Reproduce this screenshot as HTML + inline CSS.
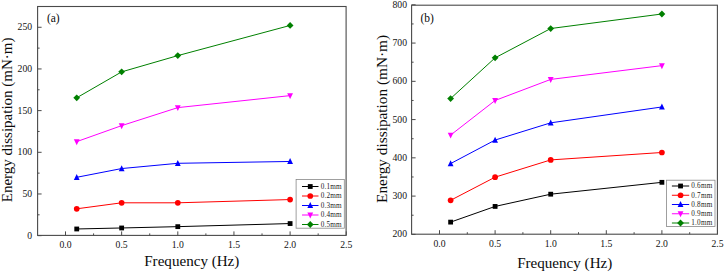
<!DOCTYPE html>
<html><head><meta charset="utf-8"><style>
html,body{margin:0;padding:0;background:#fff;}
body{width:725px;height:274px;overflow:hidden;}
svg{display:block;}
text{font-family:"Liberation Serif", serif;fill:#0a0a0a;}
text.lg{stroke:none;fill:#222;letter-spacing:0.2px;}
text.tk{stroke:none;fill:#111;}
</style></head><body>
<svg width="725" height="274" viewBox="0 0 725 274">
<rect width="725" height="274" fill="#fff"/>
<rect x="37.6" y="6.5" width="308.5" height="228.9" fill="none" stroke="#4a4a4a" stroke-width="1.1"/>
<line x1="65.50" y1="235.4" x2="65.50" y2="231.4" stroke="#4a4a4a" stroke-width="1"/>
<text x="65.50" y="248" font-size="9.7" text-anchor="middle" class="tk">0.0</text>
<line x1="121.65" y1="235.4" x2="121.65" y2="231.4" stroke="#4a4a4a" stroke-width="1"/>
<text x="121.65" y="248" font-size="9.7" text-anchor="middle" class="tk">0.5</text>
<line x1="177.80" y1="235.4" x2="177.80" y2="231.4" stroke="#4a4a4a" stroke-width="1"/>
<text x="177.80" y="248" font-size="9.7" text-anchor="middle" class="tk">1.0</text>
<line x1="233.95" y1="235.4" x2="233.95" y2="231.4" stroke="#4a4a4a" stroke-width="1"/>
<text x="233.95" y="248" font-size="9.7" text-anchor="middle" class="tk">1.5</text>
<line x1="290.10" y1="235.4" x2="290.10" y2="231.4" stroke="#4a4a4a" stroke-width="1"/>
<text x="290.10" y="248" font-size="9.7" text-anchor="middle" class="tk">2.0</text>
<line x1="346.25" y1="235.4" x2="346.25" y2="231.4" stroke="#4a4a4a" stroke-width="1"/>
<text x="346.25" y="248" font-size="9.7" text-anchor="middle" class="tk">2.5</text>
<line x1="93.58" y1="235.4" x2="93.58" y2="233.4" stroke="#4a4a4a" stroke-width="1"/>
<line x1="149.72" y1="235.4" x2="149.72" y2="233.4" stroke="#4a4a4a" stroke-width="1"/>
<line x1="205.88" y1="235.4" x2="205.88" y2="233.4" stroke="#4a4a4a" stroke-width="1"/>
<line x1="262.02" y1="235.4" x2="262.02" y2="233.4" stroke="#4a4a4a" stroke-width="1"/>
<line x1="318.17" y1="235.4" x2="318.17" y2="233.4" stroke="#4a4a4a" stroke-width="1"/>
<line x1="37.6" y1="235.65" x2="41.6" y2="235.65" stroke="#4a4a4a" stroke-width="1"/>
<text x="32.1" y="238.55" font-size="9.7" text-anchor="end" class="tk">0</text>
<line x1="37.6" y1="193.97" x2="41.6" y2="193.97" stroke="#4a4a4a" stroke-width="1"/>
<text x="32.1" y="196.88" font-size="9.7" text-anchor="end" class="tk">50</text>
<line x1="37.6" y1="152.30" x2="41.6" y2="152.30" stroke="#4a4a4a" stroke-width="1"/>
<text x="32.1" y="155.20" font-size="9.7" text-anchor="end" class="tk">100</text>
<line x1="37.6" y1="110.62" x2="41.6" y2="110.62" stroke="#4a4a4a" stroke-width="1"/>
<text x="32.1" y="113.53" font-size="9.7" text-anchor="end" class="tk">150</text>
<line x1="37.6" y1="68.95" x2="41.6" y2="68.95" stroke="#4a4a4a" stroke-width="1"/>
<text x="32.1" y="71.85" font-size="9.7" text-anchor="end" class="tk">200</text>
<line x1="37.6" y1="27.28" x2="41.6" y2="27.28" stroke="#4a4a4a" stroke-width="1"/>
<text x="32.1" y="30.18" font-size="9.7" text-anchor="end" class="tk">250</text>
<line x1="37.6" y1="214.81" x2="39.6" y2="214.81" stroke="#4a4a4a" stroke-width="1"/>
<line x1="37.6" y1="173.14" x2="39.6" y2="173.14" stroke="#4a4a4a" stroke-width="1"/>
<line x1="37.6" y1="131.46" x2="39.6" y2="131.46" stroke="#4a4a4a" stroke-width="1"/>
<line x1="37.6" y1="89.79" x2="39.6" y2="89.79" stroke="#4a4a4a" stroke-width="1"/>
<line x1="37.6" y1="48.11" x2="39.6" y2="48.11" stroke="#4a4a4a" stroke-width="1"/>
<text x="191.8" y="266.2" font-size="15.1" text-anchor="middle">Frequency (Hz)</text>
<text transform="translate(12.2,119.9) rotate(-90)" font-size="15" text-anchor="middle">Energy dissipation (mN&#183;m)</text>
<text x="46.9" y="21.5" font-size="11.5">(a)</text>
<polyline points="76.73,228.98 121.65,227.98 177.80,226.65 290.10,223.56" fill="none" stroke="#000000" stroke-width="1.0"/>
<rect x="74.33" y="226.58" width="4.80" height="4.80" fill="#000000"/>
<rect x="119.25" y="225.58" width="4.80" height="4.80" fill="#000000"/>
<rect x="175.40" y="224.25" width="4.80" height="4.80" fill="#000000"/>
<rect x="287.70" y="221.16" width="4.80" height="4.80" fill="#000000"/>
<polyline points="76.73,208.81 121.65,202.81 177.80,202.81 290.10,199.56" fill="none" stroke="#ff0000" stroke-width="1.0"/>
<circle cx="76.73" cy="208.81" r="2.85" fill="#ff0000"/>
<circle cx="121.65" cy="202.81" r="2.85" fill="#ff0000"/>
<circle cx="177.80" cy="202.81" r="2.85" fill="#ff0000"/>
<circle cx="290.10" cy="199.56" r="2.85" fill="#ff0000"/>
<polyline points="76.73,177.31 121.65,168.55 177.80,163.30 290.10,161.47" fill="none" stroke="#0000ff" stroke-width="1.0"/>
<polygon points="76.73,173.91 79.63,179.91 73.83,179.91" fill="#0000ff"/>
<polygon points="121.65,165.15 124.55,171.15 118.75,171.15" fill="#0000ff"/>
<polygon points="177.80,159.90 180.70,165.90 174.90,165.90" fill="#0000ff"/>
<polygon points="290.10,158.07 293.00,164.07 287.20,164.07" fill="#0000ff"/>
<polyline points="76.73,141.63 121.65,125.63 177.80,107.62 290.10,95.62" fill="none" stroke="#ff00ff" stroke-width="1.0"/>
<polygon points="76.73,145.13 79.63,139.18 73.83,139.18" fill="#ff00ff"/>
<polygon points="121.65,129.13 124.55,123.18 118.75,123.18" fill="#ff00ff"/>
<polygon points="177.80,111.12 180.70,105.17 174.90,105.17" fill="#ff00ff"/>
<polygon points="290.10,99.12 293.00,93.17 287.20,93.17" fill="#ff00ff"/>
<polyline points="76.73,97.79 121.65,71.87 177.80,55.61 290.10,25.44" fill="none" stroke="#008000" stroke-width="1.0"/>
<polygon points="76.73,94.39 80.13,97.79 76.73,101.19 73.33,97.79" fill="#008000"/>
<polygon points="121.65,68.47 125.05,71.87 121.65,75.27 118.25,71.87" fill="#008000"/>
<polygon points="177.80,52.21 181.20,55.61 177.80,59.01 174.40,55.61" fill="#008000"/>
<polygon points="290.10,22.04 293.50,25.44 290.10,28.84 286.70,25.44" fill="#008000"/>
<rect x="296.1" y="179.4" width="48.2" height="48.8" fill="#fff" stroke="#888" stroke-width="0.8"/>
<line x1="302" y1="186.50" x2="318.5" y2="186.50" stroke="#000000" stroke-width="1.0"/>
<rect x="307.85" y="184.10" width="4.80" height="4.80" fill="#000000"/>
<text x="320.7" y="188.80" font-size="7.2" class="lg">0.1mm</text>
<line x1="302" y1="196.00" x2="318.5" y2="196.00" stroke="#ff0000" stroke-width="1.0"/>
<circle cx="310.25" cy="196.00" r="2.85" fill="#ff0000"/>
<text x="320.7" y="198.30" font-size="7.2" class="lg">0.2mm</text>
<line x1="302" y1="205.50" x2="318.5" y2="205.50" stroke="#0000ff" stroke-width="1.0"/>
<polygon points="310.25,202.10 313.15,208.10 307.35,208.10" fill="#0000ff"/>
<text x="320.7" y="207.80" font-size="7.2" class="lg">0.3mm</text>
<line x1="302" y1="215.00" x2="318.5" y2="215.00" stroke="#ff00ff" stroke-width="1.0"/>
<polygon points="310.25,218.50 313.15,212.55 307.35,212.55" fill="#ff00ff"/>
<text x="320.7" y="217.30" font-size="7.2" class="lg">0.4mm</text>
<line x1="302" y1="224.50" x2="318.5" y2="224.50" stroke="#008000" stroke-width="1.0"/>
<polygon points="310.25,221.10 313.65,224.50 310.25,227.90 306.85,224.50" fill="#008000"/>
<text x="320.7" y="226.80" font-size="7.2" class="lg">0.5mm</text>
<rect x="411.6" y="5.2" width="305.79999999999995" height="229.0" fill="none" stroke="#4a4a4a" stroke-width="1.1"/>
<line x1="439.50" y1="234.2" x2="439.50" y2="230.2" stroke="#4a4a4a" stroke-width="1"/>
<text x="439.50" y="247.1" font-size="9.7" text-anchor="middle" class="tk">0.0</text>
<line x1="495.10" y1="234.2" x2="495.10" y2="230.2" stroke="#4a4a4a" stroke-width="1"/>
<text x="495.10" y="247.1" font-size="9.7" text-anchor="middle" class="tk">0.5</text>
<line x1="550.70" y1="234.2" x2="550.70" y2="230.2" stroke="#4a4a4a" stroke-width="1"/>
<text x="550.70" y="247.1" font-size="9.7" text-anchor="middle" class="tk">1.0</text>
<line x1="606.30" y1="234.2" x2="606.30" y2="230.2" stroke="#4a4a4a" stroke-width="1"/>
<text x="606.30" y="247.1" font-size="9.7" text-anchor="middle" class="tk">1.5</text>
<line x1="661.90" y1="234.2" x2="661.90" y2="230.2" stroke="#4a4a4a" stroke-width="1"/>
<text x="661.90" y="247.1" font-size="9.7" text-anchor="middle" class="tk">2.0</text>
<line x1="717.50" y1="234.2" x2="717.50" y2="230.2" stroke="#4a4a4a" stroke-width="1"/>
<text x="717.50" y="247.1" font-size="9.7" text-anchor="middle" class="tk">2.5</text>
<line x1="467.30" y1="234.2" x2="467.30" y2="232.2" stroke="#4a4a4a" stroke-width="1"/>
<line x1="522.90" y1="234.2" x2="522.90" y2="232.2" stroke="#4a4a4a" stroke-width="1"/>
<line x1="578.50" y1="234.2" x2="578.50" y2="232.2" stroke="#4a4a4a" stroke-width="1"/>
<line x1="634.10" y1="234.2" x2="634.10" y2="232.2" stroke="#4a4a4a" stroke-width="1"/>
<line x1="689.70" y1="234.2" x2="689.70" y2="232.2" stroke="#4a4a4a" stroke-width="1"/>
<line x1="411.6" y1="234.36" x2="415.6" y2="234.36" stroke="#4a4a4a" stroke-width="1"/>
<text x="407" y="237.36" font-size="9.7" text-anchor="end" class="tk">200</text>
<line x1="411.6" y1="196.10" x2="415.6" y2="196.10" stroke="#4a4a4a" stroke-width="1"/>
<text x="407" y="199.10" font-size="9.7" text-anchor="end" class="tk">300</text>
<line x1="411.6" y1="157.84" x2="415.6" y2="157.84" stroke="#4a4a4a" stroke-width="1"/>
<text x="407" y="160.84" font-size="9.7" text-anchor="end" class="tk">400</text>
<line x1="411.6" y1="119.59" x2="415.6" y2="119.59" stroke="#4a4a4a" stroke-width="1"/>
<text x="407" y="122.59" font-size="9.7" text-anchor="end" class="tk">500</text>
<line x1="411.6" y1="81.33" x2="415.6" y2="81.33" stroke="#4a4a4a" stroke-width="1"/>
<text x="407" y="84.33" font-size="9.7" text-anchor="end" class="tk">600</text>
<line x1="411.6" y1="43.07" x2="415.6" y2="43.07" stroke="#4a4a4a" stroke-width="1"/>
<text x="407" y="46.07" font-size="9.7" text-anchor="end" class="tk">700</text>
<line x1="411.6" y1="4.81" x2="415.6" y2="4.81" stroke="#4a4a4a" stroke-width="1"/>
<text x="407" y="7.81" font-size="9.7" text-anchor="end" class="tk">800</text>
<line x1="411.6" y1="215.23" x2="413.6" y2="215.23" stroke="#4a4a4a" stroke-width="1"/>
<line x1="411.6" y1="176.97" x2="413.6" y2="176.97" stroke="#4a4a4a" stroke-width="1"/>
<line x1="411.6" y1="138.72" x2="413.6" y2="138.72" stroke="#4a4a4a" stroke-width="1"/>
<line x1="411.6" y1="100.46" x2="413.6" y2="100.46" stroke="#4a4a4a" stroke-width="1"/>
<line x1="411.6" y1="62.20" x2="413.6" y2="62.20" stroke="#4a4a4a" stroke-width="1"/>
<line x1="411.6" y1="23.94" x2="413.6" y2="23.94" stroke="#4a4a4a" stroke-width="1"/>
<text x="564.7" y="268.2" font-size="15.1" text-anchor="middle">Frequency (Hz)</text>
<text transform="translate(387,118.9) rotate(-90)" font-size="15.3" text-anchor="middle">Energy dissipation (mN&#183;m)</text>
<text x="420.4" y="21.6" font-size="11.5">(b)</text>
<polyline points="450.62,222.12 495.10,206.43 550.70,194.19 661.90,182.33" fill="none" stroke="#000000" stroke-width="1.0"/>
<rect x="448.22" y="219.72" width="4.80" height="4.80" fill="#000000"/>
<rect x="492.70" y="204.03" width="4.80" height="4.80" fill="#000000"/>
<rect x="548.30" y="191.79" width="4.80" height="4.80" fill="#000000"/>
<rect x="659.50" y="179.93" width="4.80" height="4.80" fill="#000000"/>
<polyline points="450.62,200.31 495.10,177.16 550.70,159.91 661.90,152.49" fill="none" stroke="#ff0000" stroke-width="1.0"/>
<circle cx="450.62" cy="200.31" r="2.85" fill="#ff0000"/>
<circle cx="495.10" cy="177.16" r="2.85" fill="#ff0000"/>
<circle cx="550.70" cy="159.91" r="2.85" fill="#ff0000"/>
<circle cx="661.90" cy="152.49" r="2.85" fill="#ff0000"/>
<polyline points="450.62,163.58 495.10,140.05 550.70,122.84 661.90,106.96" fill="none" stroke="#0000ff" stroke-width="1.0"/>
<polygon points="450.62,160.18 453.52,166.18 447.72,166.18" fill="#0000ff"/>
<polygon points="495.10,136.65 498.00,142.65 492.20,142.65" fill="#0000ff"/>
<polygon points="550.70,119.44 553.60,125.44 547.80,125.44" fill="#0000ff"/>
<polygon points="661.90,103.56 664.80,109.56 659.00,109.56" fill="#0000ff"/>
<polyline points="450.62,135.08 495.10,100.46 550.70,79.42 661.90,65.64" fill="none" stroke="#ff00ff" stroke-width="1.0"/>
<polygon points="450.62,138.58 453.52,132.63 447.72,132.63" fill="#ff00ff"/>
<polygon points="495.10,103.96 498.00,98.01 492.20,98.01" fill="#ff00ff"/>
<polygon points="550.70,82.92 553.60,76.97 547.80,76.97" fill="#ff00ff"/>
<polygon points="661.90,69.14 664.80,63.19 659.00,63.19" fill="#ff00ff"/>
<polyline points="450.62,98.54 495.10,57.84 550.70,28.53 661.90,13.99" fill="none" stroke="#008000" stroke-width="1.0"/>
<polygon points="450.62,95.14 454.02,98.54 450.62,101.94 447.22,98.54" fill="#008000"/>
<polygon points="495.10,54.44 498.50,57.84 495.10,61.24 491.70,57.84" fill="#008000"/>
<polygon points="550.70,25.13 554.10,28.53 550.70,31.93 547.30,28.53" fill="#008000"/>
<polygon points="661.90,10.59 665.30,13.99 661.90,17.39 658.50,13.99" fill="#008000"/>
<rect x="666.4" y="180.2" width="48.6" height="46.3" fill="#fff" stroke="#888" stroke-width="0.8"/>
<line x1="671.9" y1="186.00" x2="689.2" y2="186.00" stroke="#000000" stroke-width="1.0"/>
<rect x="678.15" y="183.60" width="4.80" height="4.80" fill="#000000"/>
<text x="691.3" y="188.30" font-size="7.2" class="lg">0.6mm</text>
<line x1="671.9" y1="195.25" x2="689.2" y2="195.25" stroke="#ff0000" stroke-width="1.0"/>
<circle cx="680.55" cy="195.25" r="2.85" fill="#ff0000"/>
<text x="691.3" y="197.55" font-size="7.2" class="lg">0.7mm</text>
<line x1="671.9" y1="204.50" x2="689.2" y2="204.50" stroke="#0000ff" stroke-width="1.0"/>
<polygon points="680.55,201.10 683.45,207.10 677.65,207.10" fill="#0000ff"/>
<text x="691.3" y="206.80" font-size="7.2" class="lg">0.8mm</text>
<line x1="671.9" y1="213.75" x2="689.2" y2="213.75" stroke="#ff00ff" stroke-width="1.0"/>
<polygon points="680.55,217.25 683.45,211.30 677.65,211.30" fill="#ff00ff"/>
<text x="691.3" y="216.05" font-size="7.2" class="lg">0.9mm</text>
<line x1="671.9" y1="223.00" x2="689.2" y2="223.00" stroke="#008000" stroke-width="1.0"/>
<polygon points="680.55,219.60 683.95,223.00 680.55,226.40 677.15,223.00" fill="#008000"/>
<text x="691.3" y="225.30" font-size="7.2" class="lg">1.0mm</text>
</svg>
</body></html>
